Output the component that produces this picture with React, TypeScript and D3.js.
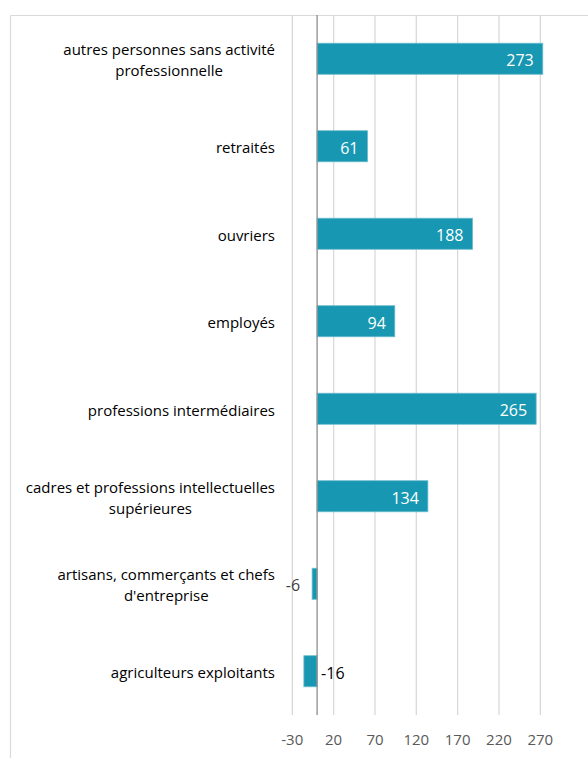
import React, { useEffect, useRef } from "react";
import * as d3 from "d3";

const categories = [
  "autres personnes sans activité\nprofessionnelle",
  "retraités",
  "ouvriers",
  "employés",
  "professions intermédiaires",
  "cadres et professions intellectuelles\nsupérieures",
  "artisans, commerçants et chefs\nd'entreprise",
  "agriculteurs exploitants",
];
const values = [273, 61, 188, 94, 265, 134, -6, -16];
const tickValues = [-30, 20, 70, 120, 170, 220, 270];

const W = 588;
const H = 758;
const FONT = "'Open Sans', sans-serif";

export default function App() {
  const ref = useRef<SVGSVGElement | null>(null);

  useEffect(() => {
    const svg = d3.select(ref.current);
    svg.selectAll("*").remove();

    const x = d3.scaleLinear().domain([-30, 270]).range([292.3, 540.3]);
    const y = d3.scaleBand<string>().domain(categories).range([15, 715]).paddingInner(0.645).paddingOuter(0.3225);

    // frame
    svg.append("line").attr("x1", 10.5).attr("x2", W).attr("y1", 15.5).attr("y2", 15.5).attr("stroke", "#d9d9d9").attr("stroke-width", 1.2);
    svg.append("line").attr("x1", 10.5).attr("x2", 10.5).attr("y1", 15.5).attr("y2", H).attr("stroke", "#d9d9d9").attr("stroke-width", 1.2);

    // gridlines
    svg.append("g").selectAll("line").data(tickValues).join("line")
      .attr("x1", (d) => x(d)).attr("x2", (d) => x(d))
      .attr("y1", 15).attr("y2", 715)
      .attr("stroke", "#d9d9d9").attr("stroke-width", 1.3);

    // bars
    svg.append("g").selectAll("rect").data(values).join("rect")
      .attr("x", (d) => Math.min(x(0), x(d)))
      .attr("width", (d) => Math.abs(x(d) - x(0)))
      .attr("y", (_, i) => y(categories[i])!)
      .attr("height", y.bandwidth())
      .attr("fill", "#1797b1")
      .attr("stroke", "#6cbccd")
      .attr("stroke-width", 0.8);

    // zero axis
    svg.append("line").attr("x1", x(0)).attr("x2", x(0)).attr("y1", 15).attr("y2", 715)
      .attr("stroke", "#8c8c8c").attr("stroke-width", 1.3);

    // value labels
    values.forEach((v, i) => {
      const cy = y(categories[i])! + y.bandwidth() / 2;
      const t = svg.append("text").text(String(v))
        .attr("font-family", FONT).attr("font-size", 16)
        .attr("y", cy + 7.5);
      if (v > 0) {
        t.attr("x", x(v) - 9).attr("text-anchor", "end").attr("fill", "#ffffff");
      } else if (i === values.length - 1) {
        t.attr("x", x(0) + 4).attr("text-anchor", "start").attr("fill", "#000000");
      } else {
        t.attr("x", x(v) - 12).attr("text-anchor", "end").attr("fill", "#404040");
      }
    });

    // category labels
    const rightEdge = 275;
    categories.forEach((c) => {
      const lines = c.split("\n");
      const cy = y(c)! + y.bandwidth() / 2;
      const lh = 20.8;
      const g = svg.append("g");
      const texts = lines.map((ln, j) =>
        g.append("text").text(ln)
          .attr("font-family", FONT).attr("font-size", 15)
          .attr("fill", "#000000")
          .attr("text-anchor", "middle")
          .attr("y", cy - ((lines.length - 1) * lh) / 2 + j * lh + 7)
      );
      const widths = texts.map((t) => (t.node() as SVGTextElement).getComputedTextLength());
      const bw = Math.max(...widths);
      texts.forEach((t) => t.attr("x", rightEdge - bw / 2));
    });

    // tick labels
    svg.append("g").selectAll("text").data(tickValues).join("text")
      .text((d) => String(d))
      .attr("x", (d) => x(d))
      .attr("y", 745)
      .attr("text-anchor", "middle")
      .attr("font-family", FONT).attr("font-size", 15)
      .attr("fill", "#595959");
  }, []);

  return (
    <svg
      ref={ref}
      width={W}
      height={H}
      style={{ position: "absolute", left: 0, top: 0, background: "#ffffff" }}
    />
  );
}
